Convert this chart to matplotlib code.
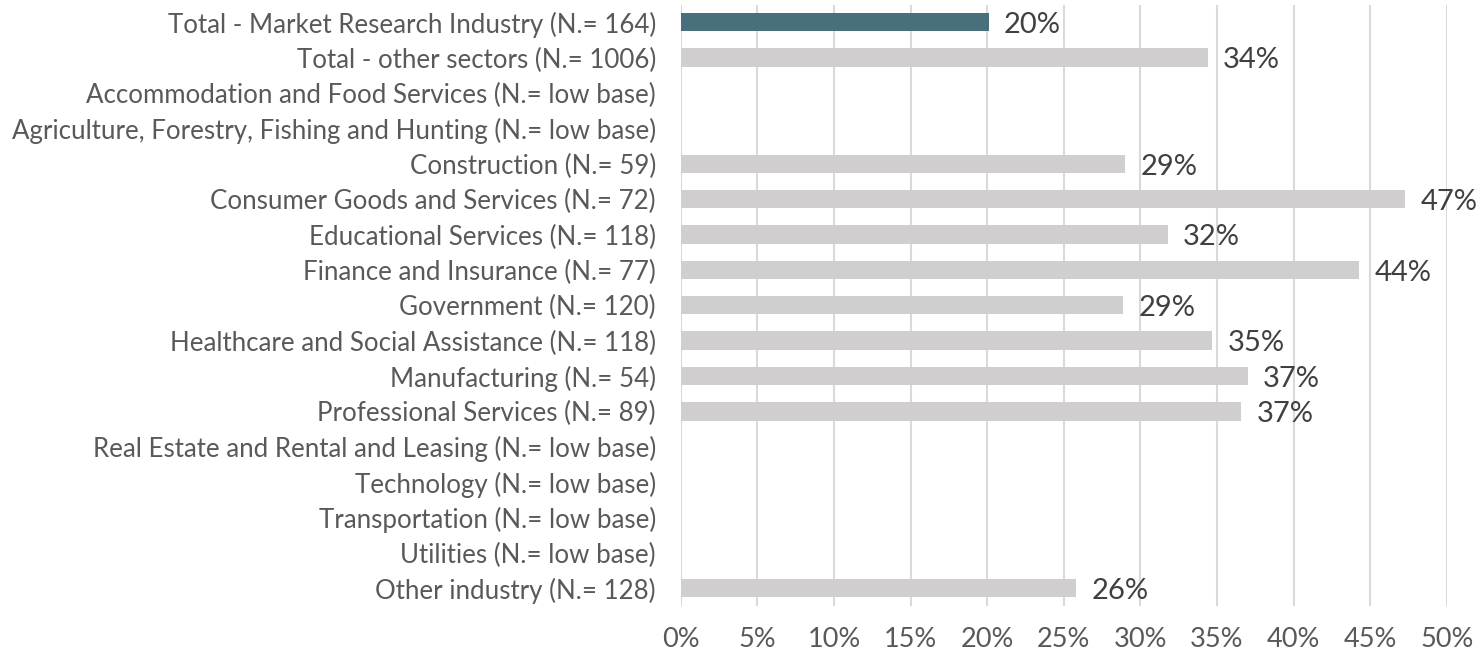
import numpy as np
import matplotlib
matplotlib.use("Agg")
import matplotlib.pyplot as plt

plt.rcParams['font.family'] = ['Lato', 'DejaVu Sans']

categories = [
    "Total - Market Research Industry (N.= 164)",
    "Total - other sectors (N.= 1006)",
    "Accommodation and Food Services (N.= low base)",
    "Agriculture, Forestry, Fishing and Hunting (N.= low base)",
    "Construction (N.= 59)",
    "Consumer Goods and Services (N.= 72)",
    "Educational Services (N.= 118)",
    "Finance and Insurance (N.= 77)",
    "Government (N.= 120)",
    "Healthcare and Social Assistance (N.= 118)",
    "Manufacturing (N.= 54)",
    "Professional Services (N.= 89)",
    "Real Estate and Rental and Leasing (N.= low base)",
    "Technology (N.= low base)",
    "Transportation (N.= low base)",
    "Utilities (N.= low base)",
    "Other industry (N.= 128)",
]
# None = low base, no bar
values = [20.1, 34.4, None, None, 29.0, 47.3, 31.8, 44.3, 28.9,
          34.7, 37.0, 36.6, None, None, None, None, 25.8]
labels = ["20%", "34%", "", "", "29%", "47%", "32%", "44%", "29%",
          "35%", "37%", "37%", "", "", "", "", "26%"]
xticks = [0, 5, 10, 15, 20, 25, 30, 35, 40, 45, 50]

fig = plt.figure(figsize=(14.8, 6.55), dpi=100)
ax = fig.add_axes([0.46, 0.075, 0.5175, 0.918])

y = np.arange(len(categories))
vals = [v if v is not None else 0 for v in values]
colors = ['#4A6F7C'] + ['#D0CECE'] * (len(categories) - 1)
ax.barh(y, vals, height=0.52, color=colors, zorder=3)

for yi, v, lab in zip(y, values, labels):
    if v is None:
        continue
    ax.text(v + 1.0, yi + 0.08, lab, va='center', ha='left',
            fontsize=21, color='#404040', zorder=4)

ax.set_yticks(y)
ax.set_yticklabels(categories, fontsize=18.6, color='#595959')
ax.set_ylim(len(categories) - 0.5, -0.5)
ax.set_xlim(0, 50)
ax.set_xticks(xticks)
ax.set_xticklabels([f"{t}%" for t in xticks], fontsize=19.5, color='#595959')
ax.tick_params(axis='both', length=0)
ax.tick_params(axis='x', pad=15)
ax.tick_params(axis='y', pad=18)
ax.grid(axis='x', color='#D9D9D9', linewidth=1.5, zorder=0)
for s in ax.spines.values():
    s.set_visible(False)

fig.savefig("out.png", dpi=100)
